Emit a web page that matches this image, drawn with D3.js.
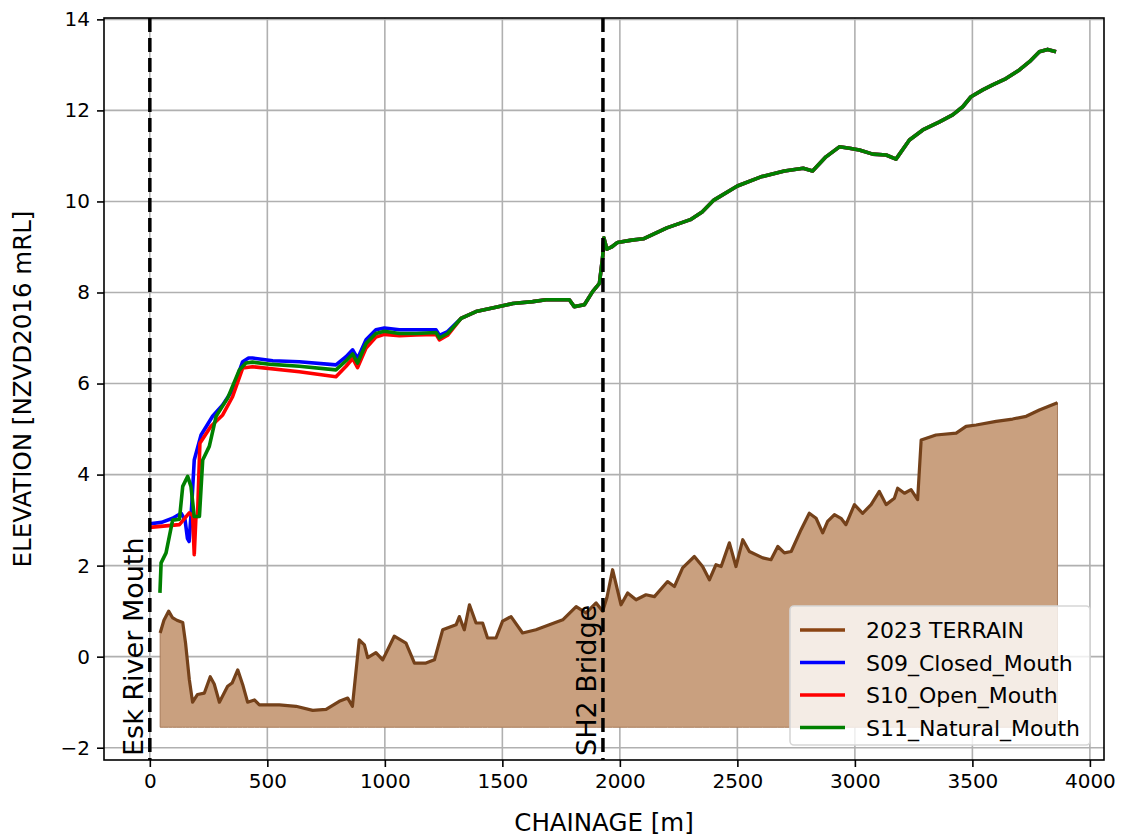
<!DOCTYPE html>
<html lang="en">
<head>
  <meta charset="utf-8" />
  <title>Water level long section - Esk River</title>
  <script src="https://d3js.org/d3.v7.min.js"></script>
  <style>
    body { margin: 0; background: #fff; }
    text { font-family: "DejaVu Sans", sans-serif; }
  </style>
</head>
<body>
<script>
  // chainage [m] / elevation [m] pairs
  var terrain = [
    [44,0.52],[60,0.8],[80,1.0],[96,0.86],[115,0.8],[140,0.75],[152,0.3],[168,-0.5],[182,-1.0],
    [203,-0.83],[232,-0.8],[257,-0.44],[274,-0.6],[296,-1.0],[331,-0.65],[350,-0.58],[374,-0.29],
    [395,-0.61],[416,-1.0],[445,-0.95],[466,-1.06],[551,-1.06],[622,-1.09],[693,-1.18],[750,-1.16],
    [806,-0.98],[842,-0.91],[862,-1.09],[891,0.37],[913,0.26],[927,-0.02],[962,0.09],[991,-0.07],
    [1040,0.45],[1090,0.3],[1126,-0.14],[1175,-0.14],[1211,-0.07],[1246,0.59],[1303,0.7],[1317,0.88],
    [1338,0.59],[1360,1.14],[1388,0.74],[1416,0.74],[1437,0.41],[1473,0.41],[1501,0.78],[1537,0.88],
    [1586,0.52],[1643,0.59],[1700,0.7],[1757,0.81],[1814,1.1],[1856,0.96],[1899,1.18],[1927,1.0],
    [1945,1.3],[1969,1.91],[2005,1.14],[2033,1.4],[2069,1.25],[2111,1.36],[2147,1.32],[2203,1.65],
    [2232,1.54],[2267,1.95],[2317,2.2],[2352,1.98],[2381,1.69],[2409,2.02],[2431,1.98],[2466,2.5],
    [2494,1.98],[2523,2.57],[2551,2.31],[2608,2.17],[2643,2.13],[2672,2.42],[2700,2.28],[2729,2.31],
    [2771,2.79],[2806,3.15],[2835,3.04],[2863,2.72],[2884,2.97],[2913,3.12],[2941,3.04],[2962,2.9],
    [2998,3.34],[3033,3.15],[3069,3.34],[3104,3.63],[3133,3.34],[3168,3.48],[3182,3.7],[3211,3.59],
    [3239,3.67],[3267,3.45],[3282,4.76],[3345,4.87],[3431,4.91],[3473,5.06],[3516,5.09],[3601,5.17],
    [3671,5.22],[3729,5.28],[3785,5.42],[3862,5.58]
  ];
  var terrainBase = -1.55;

  // upstream of ~1300 m all three scenarios sit on the same line
  var sharedUpper = [
    [1324,7.43],[1388,7.58],[1487,7.69],[1544,7.76],[1629,7.8],[1686,7.84],[1785,7.84],[1806,7.69],
    [1849,7.73],[1884,8.02],[1913,8.2],[1927,8.79],[1932,9.2],[1945,8.95],[1965,9.0],[1990,9.1],
    [2050,9.15],[2100,9.18],[2200,9.42],[2300,9.6],[2350,9.77],[2400,10.03],[2500,10.34],[2600,10.54],
    [2700,10.67],[2780,10.73],[2820,10.67],[2877,10.98],[2934,11.2],[2977,11.17],[3019,11.13],
    [3076,11.04],[3133,11.02],[3175,10.93],[3232,11.35],[3289,11.57],[3360,11.75],[3416,11.9],
    [3459,12.08],[3494,12.3],[3544,12.45],[3586,12.56],[3643,12.7],[3700,12.89],[3743,13.07],
    [3785,13.29],[3820,13.34],[3856,13.29]
  ];
  var s09Lower = [
    [0,2.92],[50,2.95],[97,3.04],[133,3.15],[150,3.0],[160,2.6],[167,2.53],[178,3.3],[189,4.32],
    [218,4.87],[267,5.28],[310,5.53],[352,5.86],[395,6.48],[420,6.56],[437,6.56],[523,6.5],[636,6.48],
    [792,6.41],[835,6.59],[863,6.74],[884,6.55],[920,6.96],[962,7.18],[998,7.22],[1062,7.18],
    [1133,7.18],[1218,7.18],[1232,7.06],[1267,7.14]
  ];
  var s10Lower = [
    [0,2.84],[126,2.9],[168,3.16],[182,3.1],[189,2.24],[196,3.05],[203,3.08],[213,4.69],[260,5.06],
    [310,5.31],[352,5.71],[395,6.34],[437,6.37],[636,6.26],[792,6.15],[835,6.38],[863,6.55],[884,6.35],
    [920,6.78],[962,7.02],[998,7.08],[1062,7.05],[1133,7.07],[1218,7.08],[1232,6.96],[1267,7.06]
  ];
  var s11Lower = [
    [43,1.4],[48,2.06],[69,2.28],[97,3.0],[126,3.02],[140,3.74],[161,3.96],[175,3.74],[189,3.08],
    [211,3.08],[225,4.32],[253,4.62],[282,5.28],[331,5.68],[381,6.3],[409,6.45],[437,6.47],[520,6.42],
    [636,6.38],[792,6.3],[835,6.5],[863,6.65],[884,6.45],[920,6.88],[962,7.1],[998,7.15],[1062,7.1],
    [1133,7.1],[1218,7.12],[1232,7.0],[1267,7.1]
  ];

  var seriesNames = ["S09_Closed_Mouth", "S10_Open_Mouth", "S11_Natural_Mouth"];
  var seriesColors = ["#0000ff", "#ff0000", "#008000"];
  var seriesData = [s09Lower.concat(sharedUpper), s10Lower.concat(sharedUpper), s11Lower.concat(sharedUpper)];

  var markers = [{x: 0, label: "Esk River Mouth"}, {x: 1928, label: "SH2 Bridge"}];
  var xTicks = [0, 500, 1000, 1500, 2000, 2500, 3000, 3500, 4000];
  var yTicks = [-2, 0, 2, 4, 6, 8, 10, 12, 14];

  var w = 1121, h = 837;
  // plot box (avoid the global name "top")
  var boxL = 104, boxR = 1104, boxT = 18, boxB = 760;

  var svg = d3.select("body").append("svg")
      .attr("width", w)
      .attr("height", h);

  var x = d3.scaleLinear().domain([-195, 4060]).range([boxL, boxR]);
  var y = d3.scaleLinear().domain([-2.27, 14.03]).range([boxB, boxT]);

  svg.append("clipPath").attr("id", "plot")
    .append("rect").attr("x", boxL).attr("y", boxT)
    .attr("width", boxR - boxL).attr("height", boxB - boxT);

  // grid
  svg.append("g").selectAll("line").data(xTicks).enter().append("line")
      .attr("x1", function(d) { return x(d); }).attr("x2", function(d) { return x(d); })
      .attr("y1", boxT).attr("y2", boxB)
      .attr("stroke", "#b0b0b0").attr("stroke-width", 1.6);
  svg.append("g").selectAll("line").data(yTicks).enter().append("line")
      .attr("x1", boxL).attr("x2", boxR)
      .attr("y1", function(d) { return y(d); }).attr("y2", function(d) { return y(d); })
      .attr("stroke", "#b0b0b0").attr("stroke-width", 1.6);

  var plot = svg.append("g").attr("clip-path", "url(#plot)");

  // terrain fill + line
  var area = d3.area()
      .x(function(d) { return x(d[0]); })
      .y0(y(terrainBase))
      .y1(function(d) { return y(d[1]); });
  plot.append("path").datum(terrain)
      .attr("d", area)
      .attr("fill", "#c9a07f")
      .attr("stroke", "#a77a58")
      .attr("stroke-width", 1);

  var line = d3.line()
      .x(function(d) { return x(d[0]); })
      .y(function(d) { return y(d[1]); });
  plot.append("path").datum(terrain)
      .attr("d", line)
      .attr("fill", "none")
      .attr("stroke", "#74411a")
      .attr("stroke-width", 3.2)
      .attr("stroke-linejoin", "round");

  // water levels, green on top
  seriesData.forEach(function(s, i) {
    plot.append("path").datum(s)
        .attr("d", line)
        .attr("fill", "none")
        .attr("stroke", seriesColors[i])
        .attr("stroke-width", 3.6)
        .attr("stroke-linejoin", "round");
  });

  // dashed markers with rotated labels
  markers.forEach(function(m) {
    plot.append("line")
        .attr("x1", x(m.x)).attr("x2", x(m.x))
        .attr("y1", boxT).attr("y2", boxB)
        .attr("stroke", "#000").attr("stroke-width", 3.5)
        .attr("stroke-dasharray", "14,6");
    svg.append("text")
        .attr("transform", "translate(" + (x(m.x) - 6.5) + "," + 756 + ") rotate(-90)")
        .attr("font-size", "27px")
        .attr("fill", "#000")
        .text(m.label);
  });

  // axes
  function styleAxis(g) {
    g.select(".domain").remove();
    g.selectAll("line").attr("stroke", "#000").attr("stroke-width", 1.6);
    g.selectAll("text").attr("font-size", "20px").attr("font-family", "DejaVu Sans").attr("fill", "#000");
  }
  svg.append("g")
      .attr("transform", "translate(0," + boxB + ")")
      .call(d3.axisBottom(x).tickValues(xTicks).tickSize(7).tickPadding(7).tickFormat(d3.format("d")))
      .call(styleAxis);
  svg.append("g")
      .attr("transform", "translate(" + boxL + ",0)")
      .call(d3.axisLeft(y).tickValues(yTicks).tickSize(7).tickPadding(7)
        .tickFormat(function(d) { return d < 0 ? "\u2212" + Math.abs(d) : d; }))
      .call(styleAxis);

  svg.append("rect")
      .attr("x", boxL).attr("y", boxT)
      .attr("width", boxR - boxL).attr("height", boxB - boxT)
      .attr("fill", "none").attr("stroke", "#000").attr("stroke-width", 1.6);

  svg.append("text")
      .attr("x", (boxL + boxR) / 2).attr("y", 831)
      .attr("text-anchor", "middle")
      .attr("font-size", "24.5px")
      .text("CHAINAGE [m]");
  svg.append("text")
      .attr("transform", "translate(31," + ((boxT + boxB) / 2) + ") rotate(-90)")
      .attr("text-anchor", "middle")
      .attr("font-size", "24.5px")
      .text("ELEVATION [NZVD2016 mRL]");

  // legend
  var legendNames = ["2023 TERRAIN"].concat(seriesNames);
  var legendColors = ["#8b4513"].concat(seriesColors);
  var lg = svg.append("g");
  lg.append("rect")
      .attr("x", 790).attr("y", 606).attr("width", 300).attr("height", 139)
      .attr("rx", 4)
      .attr("fill", "#fff").attr("fill-opacity", 0.8)
      .attr("stroke", "#d6d6d6").attr("stroke-width", 1.6);
  legendNames.forEach(function(n, i) {
    var cy = 630 + i * 32.5;
    lg.append("line")
        .attr("x1", 800).attr("x2", 845).attr("y1", cy).attr("y2", cy)
        .attr("stroke", legendColors[i]).attr("stroke-width", 3.6);
    lg.append("text")
        .attr("x", 866).attr("y", cy + 8)
        .attr("font-size", "22px")
        .text(n);
  });
</script>
</body>
</html>
